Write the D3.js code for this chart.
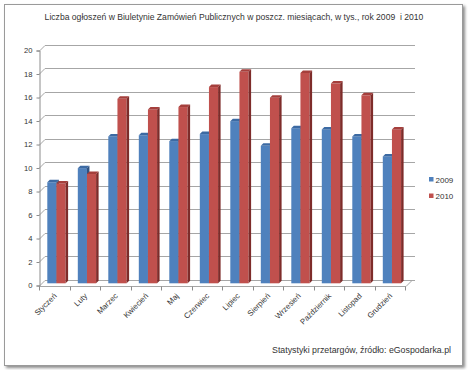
<!DOCTYPE html>
<html>
<head>
<meta charset="UTF-8">
<title>Ogłoszenia BZP 2009-2010</title>
<script src="https://cdn.jsdelivr.net/npm/d3@7"></script>
<style>
body { margin: 0; background: #fff; }
text { font-family: "Liberation Sans", Arial, sans-serif; fill: #333; }
</style>
</head>
<body>
<script>
// dane (tys. ogłoszeń)
var months = ["Styczeń", "Luty", "Marzec", "Kwiecień", "Maj", "Czerwiec", "Lipiec",
  "Sierpień", "Wrzesień", "Październik", "Listopad", "Grudzień"];
var series = ["2009", "2010"];
var v2009 = [8.6, 9.8, 12.5, 12.6, 12.1, 12.7, 13.8, 11.7, 13.2, 13.1, 12.5, 10.8];
var v2010 = [8.5, 9.3, 15.7, 14.8, 15.0, 16.7, 18.0, 15.8, 17.9, 17.0, 16.0, 13.1];
var yTicks = [0, 2, 4, 6, 8, 10, 12, 14, 16, 18, 20];

var colors = {
  "2009": { front: "#4f81bd", top: "#3c6aa3", side: "#2f5281" },
  "2010": { front: "#c0504d", top: "#a53f3c", side: "#7e2c2a" }
};

var W = 470, H = 370;
var D = 6;       // glebokosc scian 3D
var faceOff = 2.2, barDepth = 2.5;

var svg = d3.select("body").append("svg")
  .attr("width", W)
  .attr("height", H);

// ramka z cieniem
var defs = svg.append("defs");
var f = defs.append("filter").attr("id", "sh").attr("x", "-5%").attr("y", "-5%")
  .attr("width", "110%").attr("height", "110%");
f.append("feDropShadow").attr("dx", 2).attr("dy", 2).attr("stdDeviation", 1.5)
  .attr("flood-color", "#000").attr("flood-opacity", 0.45);
svg.append("rect")
  .attr("x", 4.5).attr("y", 4.5).attr("width", 458).attr("height", 361)
  .attr("fill", "#fff").attr("stroke", "#9a9a9a").attr("stroke-width", 1)
  .attr("filter", "url(#sh)");

// tytul
svg.append("text")
  .attr("x", 234).attr("y", 20)
  .attr("text-anchor", "middle")
  .style("font-size", "8.6px")
  .style("white-space", "pre")
  .text("Liczba ogłoszeń w Biuletynie Zamówień Publicznych w poszcz. miesiącach, w tys., rok 2009  i 2010");

var y = d3.scaleLinear().domain([0, 20]).range([285.5, 50.5]);
var x0 = d3.scaleBand().domain(months).range([39, 405]);
var x1 = d3.scaleBand().domain(series).range([x0.bandwidth() * 0.2, x0.bandwidth() * 0.8]);

var left = x0.range()[0], right = x0.range()[1];

// linie siatki: sciana boczna + tylna
var grid = svg.append("g").attr("stroke", "#a6a6a6").attr("stroke-width", 1).attr("fill", "none");
yTicks.forEach(function(t) {
  var yf = Math.round(y(t)) + 0.5;
  grid.append("path")
    .attr("d", "M" + left + "," + yf + "L" + (left + D) + "," + (yf - D) + "L" + (right + D + 4) + "," + (yf - D));
});

// podloga
grid.append("path")
  .attr("d", "M" + left + "," + (Math.round(y(0)) + 0.5) + "L" + (right + 1) + "," + (Math.round(y(0)) + 0.5) +
    "L" + (right + 1 + D) + "," + (Math.round(y(0)) + 0.5 - D));

// os Y
svg.append("g")
  .attr("transform", "translate(" + (left + 0.5) + ",0)")
  .call(d3.axisLeft(y).tickValues(yTicks).tickSize(3).tickPadding(4))
  .call(function(g) {
    g.select(".domain").attr("stroke", "#8c8c8c");
    g.selectAll(".tick line").attr("stroke", "#8c8c8c");
    g.selectAll(".tick text").style("font-size", "7.6px").attr("fill", "#333")
      .style("font-family", "Liberation Sans, Arial, sans-serif");
  });

// os X
var xAxis = svg.append("g")
  .attr("transform", "translate(0," + (Math.round(y(0)) + 0.5) + ")");
xAxis.selectAll("line.tk")
  .data(months.concat(["_end"]))
  .enter().append("line")
  .attr("class", "tk")
  .attr("x1", function(d, i) { return Math.round(left + i * x0.step()) + 0.5; })
  .attr("x2", function(d, i) { return Math.round(left + i * x0.step()) + 0.5; })
  .attr("y1", 0).attr("y2", 4)
  .attr("stroke", "#8c8c8c");
xAxis.selectAll("text")
  .data(months)
  .enter().append("text")
  .attr("transform", function(d) {
    return "translate(" + (x0(d) + x0.bandwidth() / 2 + 3) + ",10) rotate(-45)";
  })
  .attr("text-anchor", "end")
  .style("font-size", "7.8px")
  .text(function(d) { return d; });

// slupki 3D
var rows = [];
months.forEach(function(m, i) {
  rows.push({ m: m, s: "2009", v: v2009[i] });
  rows.push({ m: m, s: "2010", v: v2010[i] });
});

var bars = svg.append("g").selectAll("g")
  .data(rows)
  .enter().append("g");

function bx(d) { return x0(d.m) + x1(d.s) + faceOff; }
function byTop(d) { return y(d.v) - faceOff; }
function byBot() { return y(0) - faceOff; }
var bw = x1.bandwidth();

bars.append("rect")
  .attr("x", bx)
  .attr("y", byTop)
  .attr("width", bw)
  .attr("height", function(d) { return byBot() - byTop(d); })
  .attr("fill", function(d) { return colors[d.s].front; });

bars.append("path")
  .attr("d", function(d) {
    var x = bx(d), t = byTop(d), k = barDepth;
    return "M" + x + "," + t + "L" + (x + k) + "," + (t - k) + "L" + (x + bw + k) + "," + (t - k) + "L" + (x + bw) + "," + t + "Z";
  })
  .attr("fill", function(d) { return colors[d.s].top; });

bars.append("path")
  .attr("d", function(d) {
    var x = bx(d) + bw, t = byTop(d), b = byBot(), k = barDepth;
    return "M" + x + "," + t + "L" + (x + k) + "," + (t - k) + "L" + (x + k) + "," + (b - k) + "L" + x + "," + b + "Z";
  })
  .attr("fill", function(d) { return colors[d.s].side; });

// legenda
var legend = svg.append("g");
series.forEach(function(s, i) {
  var ly = 177 + i * 16.5;
  legend.append("rect")
    .attr("x", 429).attr("y", ly).attr("width", 4.5).attr("height", 4.5)
    .attr("fill", colors[s].front);
  legend.append("text")
    .attr("x", 435.5).attr("y", ly + 5.5)
    .style("font-size", "8px")
    .text(s);
});

// zrodlo
svg.append("text")
  .attr("x", 451).attr("y", 353)
  .attr("text-anchor", "end")
  .style("font-size", "8.8px")
  .text("Statystyki przetargów, źródło: eGospodarka.pl");
</script>
</body>
</html>
